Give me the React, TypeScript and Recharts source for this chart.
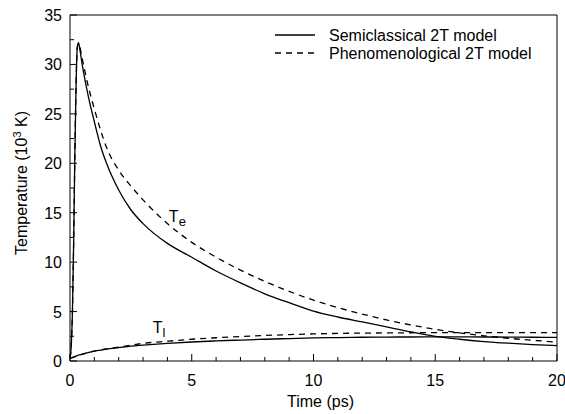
import { LineChart, Line, XAxis, YAxis, Legend, ReferenceLine, ReferenceDot } from 'recharts';

// time in ps
const time = [0, 0.05, 0.1, 0.15, 0.2, 0.25, 0.3, 0.35, 0.4, 0.5, 0.75, 1, 1.25, 1.5, 2, 2.5, 3, 4, 5, 6, 7, 8, 9, 10, 11, 12, 13, 14, 15, 16, 17, 18, 19, 20];

// temperatures in 10^3 K
const teSemi = [0.3, 1.5, 5, 12, 21, 28, 31.8, 32.2, 31.6, 30, 26.8, 24.2, 21.8, 20, 17.3, 15.3, 13.9, 11.9, 10.5, 9.1, 7.9, 6.8, 5.9, 5.05, 4.45, 3.95, 3.45, 2.95, 2.5, 2.2, 1.97, 1.8, 1.66, 1.55];
const tePheno = [0.3, 1.5, 5, 12, 21, 28, 31.7, 32.1, 31.8, 30.6, 27.8, 25.5, 23.4, 21.6, 19.3, 17.7, 16.3, 13.9, 12.0, 10.5, 9.2, 8.05, 7.05, 6.15, 5.4, 4.75, 4.15, 3.65, 3.2, 2.85, 2.55, 2.3, 2.1, 1.9];
const tlSemi = [0.3, 0.32, 0.35, 0.4, 0.45, 0.5, 0.55, 0.6, 0.62, 0.68, 0.85, 1.0, 1.1, 1.2, 1.35, 1.5, 1.6, 1.78, 1.92, 2.03, 2.12, 2.2, 2.27, 2.33, 2.37, 2.4, 2.42, 2.43, 2.44, 2.44, 2.43, 2.42, 2.4, 2.38];
const tlPheno = [0.3, 0.32, 0.35, 0.4, 0.45, 0.5, 0.55, 0.6, 0.62, 0.68, 0.85, 1.0, 1.12, 1.23, 1.4, 1.6, 1.78, 2.0, 2.2, 2.35, 2.48, 2.58, 2.67, 2.74, 2.79, 2.82, 2.84, 2.86, 2.87, 2.87, 2.87, 2.87, 2.87, 2.87];

const xTicks = [0, 1, 2, 3, 4, 5, 6, 7, 8, 9, 10, 11, 12, 13, 14, 15, 16, 17, 18, 19, 20];
const yTicks = [0, 2.5, 5, 7.5, 10, 12.5, 15, 17.5, 20, 22.5, 25, 27.5, 30, 32.5, 35];

const legendItems = [
  { name: 'Semiclassical 2T model', dash: undefined },
  { name: 'Phenomenological 2T model', dash: '6 5' },
];

const rows = time.map((t, i) => ({
  t,
  teSemi: teSemi[i],
  tePheno: tePheno[i],
  tlSemi: tlSemi[i],
  tlPheno: tlPheno[i],
}));

const FONT = '"Liberation Sans", Arial, Helvetica, sans-serif';

function XTick({ x, y, payload }: any) {
  const v = payload.value;
  const major = v % 5 === 0;
  return (
    <g>
      <line x1={x} x2={x} y1={y} y2={y - (major ? 7 : 4)} stroke="#000" />
      {major && (
        <text x={x} y={y + 25} textAnchor="middle" fontSize={16} fill="#000">
          {v}
        </text>
      )}
    </g>
  );
}

function YTick({ x, y, payload }: any) {
  const v = payload.value;
  const major = v % 5 === 0;
  return (
    <g>
      <line x1={x} x2={x + (major ? 7 : 4)} y1={y} y2={y} stroke="#000" />
      {major && (
        <text x={x - 8} y={y + 6} textAnchor="end" fontSize={16} fill="#000">
          {v}
        </text>
      )}
    </g>
  );
}

function SubLabel({ cx, cy, main, sub }: any) {
  return (
    <text x={cx} y={cy} fontSize={16} fill="#000">
      {main}
      <tspan fontSize={13} dy={4}>{sub}</tspan>
    </text>
  );
}

function LegendBox() {
  return (
    <svg width={280} height={40}>
      {legendItems.map((item, i) => (
        <g key={item.name}>
          <line x1={10} x2={50} y1={10 + i * 18} y2={10 + i * 18} stroke="#000" strokeWidth={1.3} strokeDasharray={item.dash} />
          <text x={64} y={16 + i * 18} fontSize={16} fill="#000" fontFamily={FONT}>
            {item.name}
          </text>
        </g>
      ))}
    </svg>
  );
}

export default function App() {
  return (
    <div style={{ position: 'absolute', left: 0, top: 0, background: '#fff' }}>
      <LineChart width={565} height={414} data={rows} margin={{ top: 15, right: 8, left: 0, bottom: 0 }} style={{ fontFamily: FONT }}>
        <XAxis
          type="number"
          dataKey="t"
          domain={[0, 20]}
          ticks={xTicks}
          interval={0}
          height={53}
          tickSize={0}
          tickMargin={0}
          tick={(p: any) => <XTick {...p} />}
          axisLine={{ stroke: '#000' }}
          label={(p: any) => {
            const vb = p.viewBox;
            return (
              <text x={vb.x + vb.width / 2 + 7} y={vb.y + 46} textAnchor="middle" fontSize={16} fill="#000">
                Time (ps)
              </text>
            );
          }}
        />
        <YAxis
          type="number"
          domain={[0, 35]}
          ticks={yTicks}
          interval={0}
          width={70}
          tickSize={0}
          tickMargin={0}
          tick={(p: any) => <YTick {...p} />}
          axisLine={{ stroke: '#000' }}
          label={(p: any) => {
            const vb = p.viewBox;
            const cx = vb.x + 27;
            const cy = vb.y + vb.height / 2 - 5;
            return (
              <text x={cx} y={cy} transform={`rotate(-90 ${cx} ${cy})`} textAnchor="middle" fontSize={16} fill="#000">
                Temperature (10
                <tspan fontSize={11} dy={-6}>3</tspan>
                <tspan dy={6}> K)</tspan>
              </text>
            );
          }}
        />
        <ReferenceLine y={35} stroke="#000" />
        <ReferenceLine x={20} stroke="#000" />
        <Legend
          layout="vertical"
          align="center"
          verticalAlign="middle"
          wrapperStyle={{ left: 265, top: 25, width: 280 }}
          content={() => <LegendBox />}
        />
        <Line type="monotone" dataKey="teSemi" stroke="#000" strokeWidth={1.3} dot={false} isAnimationActive={false} />
        <Line type="monotone" dataKey="tePheno" stroke="#000" strokeWidth={1.3} strokeDasharray="6 5" dot={false} isAnimationActive={false} />
        <Line type="monotone" dataKey="tlSemi" stroke="#000" strokeWidth={1.3} dot={false} isAnimationActive={false} />
        <Line type="monotone" dataKey="tlPheno" stroke="#000" strokeWidth={1.3} strokeDasharray="6 5" dot={false} isAnimationActive={false} />
        <ReferenceDot x={4.06} y={14.06} r={0} shape={(p: any) => <SubLabel {...p} main="T" sub="e" />} />
        <ReferenceDot x={3.4} y={2.83} r={0} shape={(p: any) => <SubLabel {...p} main="T" sub="l" />} />
      </LineChart>
    </div>
  );
}
